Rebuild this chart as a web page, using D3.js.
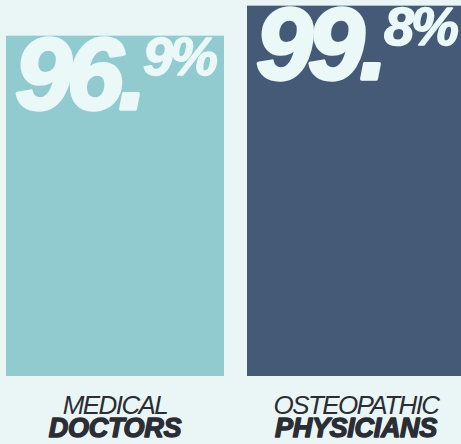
<!DOCTYPE html>
<html><head><meta charset="utf-8">
<script src="https://cdn.jsdelivr.net/npm/d3@7"></script>
<style>
html,body{margin:0;padding:0;background:#eaf6f6;}
svg{display:block;}
</style></head>
<body>
<script>
const categories = ["Medical Doctors", "Osteopathic Physicians"];
const labelTop = ["MEDICAL", "OSTEOPATHIC"];
const labelBottom = ["DOCTORS", "PHYSICIANS"];
const values = [96.9, 99.8];
const colors = ["#92cbcf", "#445a77"];

const W = 461, H = 444;
const svg = d3.select("body").append("svg").attr("width", W).attr("height", H);
svg.append("rect").attr("width", W).attr("height", H).attr("fill", "#eaf6f6");

const x = d3.scaleBand().domain(categories).range([6, 465]).paddingInner(23/241).paddingOuter(0);
const y = d3.scaleLinear().domain([64, 100]).range([376, 376 - 36 * (30 / 2.9)]);

const g = svg.selectAll("g.bar").data(categories).join("g").attr("class", "bar");
g.append("rect")
  .attr("x", d => x(d))
  .attr("y", (d, i) => y(values[i]))
  .attr("width", x.bandwidth())
  .attr("height", (d, i) => y(64) - y(values[i]))
  .attr("fill", (d, i) => colors[i]);

const numFont = "'Liberation Sans', Arial, sans-serif";
g.append("text")
  .attr("x", d => x(d) + 9)
  .attr("y", (d, i) => y(values[i]) + 73)
  .attr("font-family", numFont).attr("font-weight", "bold").attr("font-style", "italic")
  .attr("font-size", 102).attr("letter-spacing", -5)
  .attr("fill", "#eaf8f8").attr("stroke", "#eaf8f8").attr("stroke-width", 3.5).attr("stroke-linejoin", "round")
  .text((d, i) => Math.floor(values[i]) + ".");
g.append("text")
  .attr("x", d => x(d) + 137)
  .attr("y", (d, i) => y(values[i]) + 39)
  .attr("font-family", numFont).attr("font-weight", "bold").attr("font-style", "italic")
  .attr("font-size", 54).attr("letter-spacing", -3)
  .attr("fill", "#eaf8f8").attr("stroke", "#eaf8f8").attr("stroke-width", 1.5).attr("stroke-linejoin", "round")
  .text((d, i) => Math.round((values[i] % 1) * 10) + "%");

g.append("text")
  .attr("x", d => x(d) + x.bandwidth() / 2)
  .attr("y", 414)
  .attr("text-anchor", "middle")
  .attr("font-family", numFont).attr("font-style", "italic")
  .attr("font-size", 26).attr("letter-spacing", -1.6)
  .attr("fill", "#2b2d35")
  .text((d, i) => labelTop[i]);
g.append("text")
  .attr("x", d => x(d) + x.bandwidth() / 2)
  .attr("y", 437)
  .attr("text-anchor", "middle")
  .attr("font-family", numFont).attr("font-style", "italic").attr("font-weight", "bold")
  .attr("font-size", 27).attr("letter-spacing", -0.3)
  .attr("fill", "#2b2d35").attr("stroke", "#2b2d35").attr("stroke-width", 1.4).attr("stroke-linejoin", "round")
  .text((d, i) => labelBottom[i]);
</script>
</body></html>
